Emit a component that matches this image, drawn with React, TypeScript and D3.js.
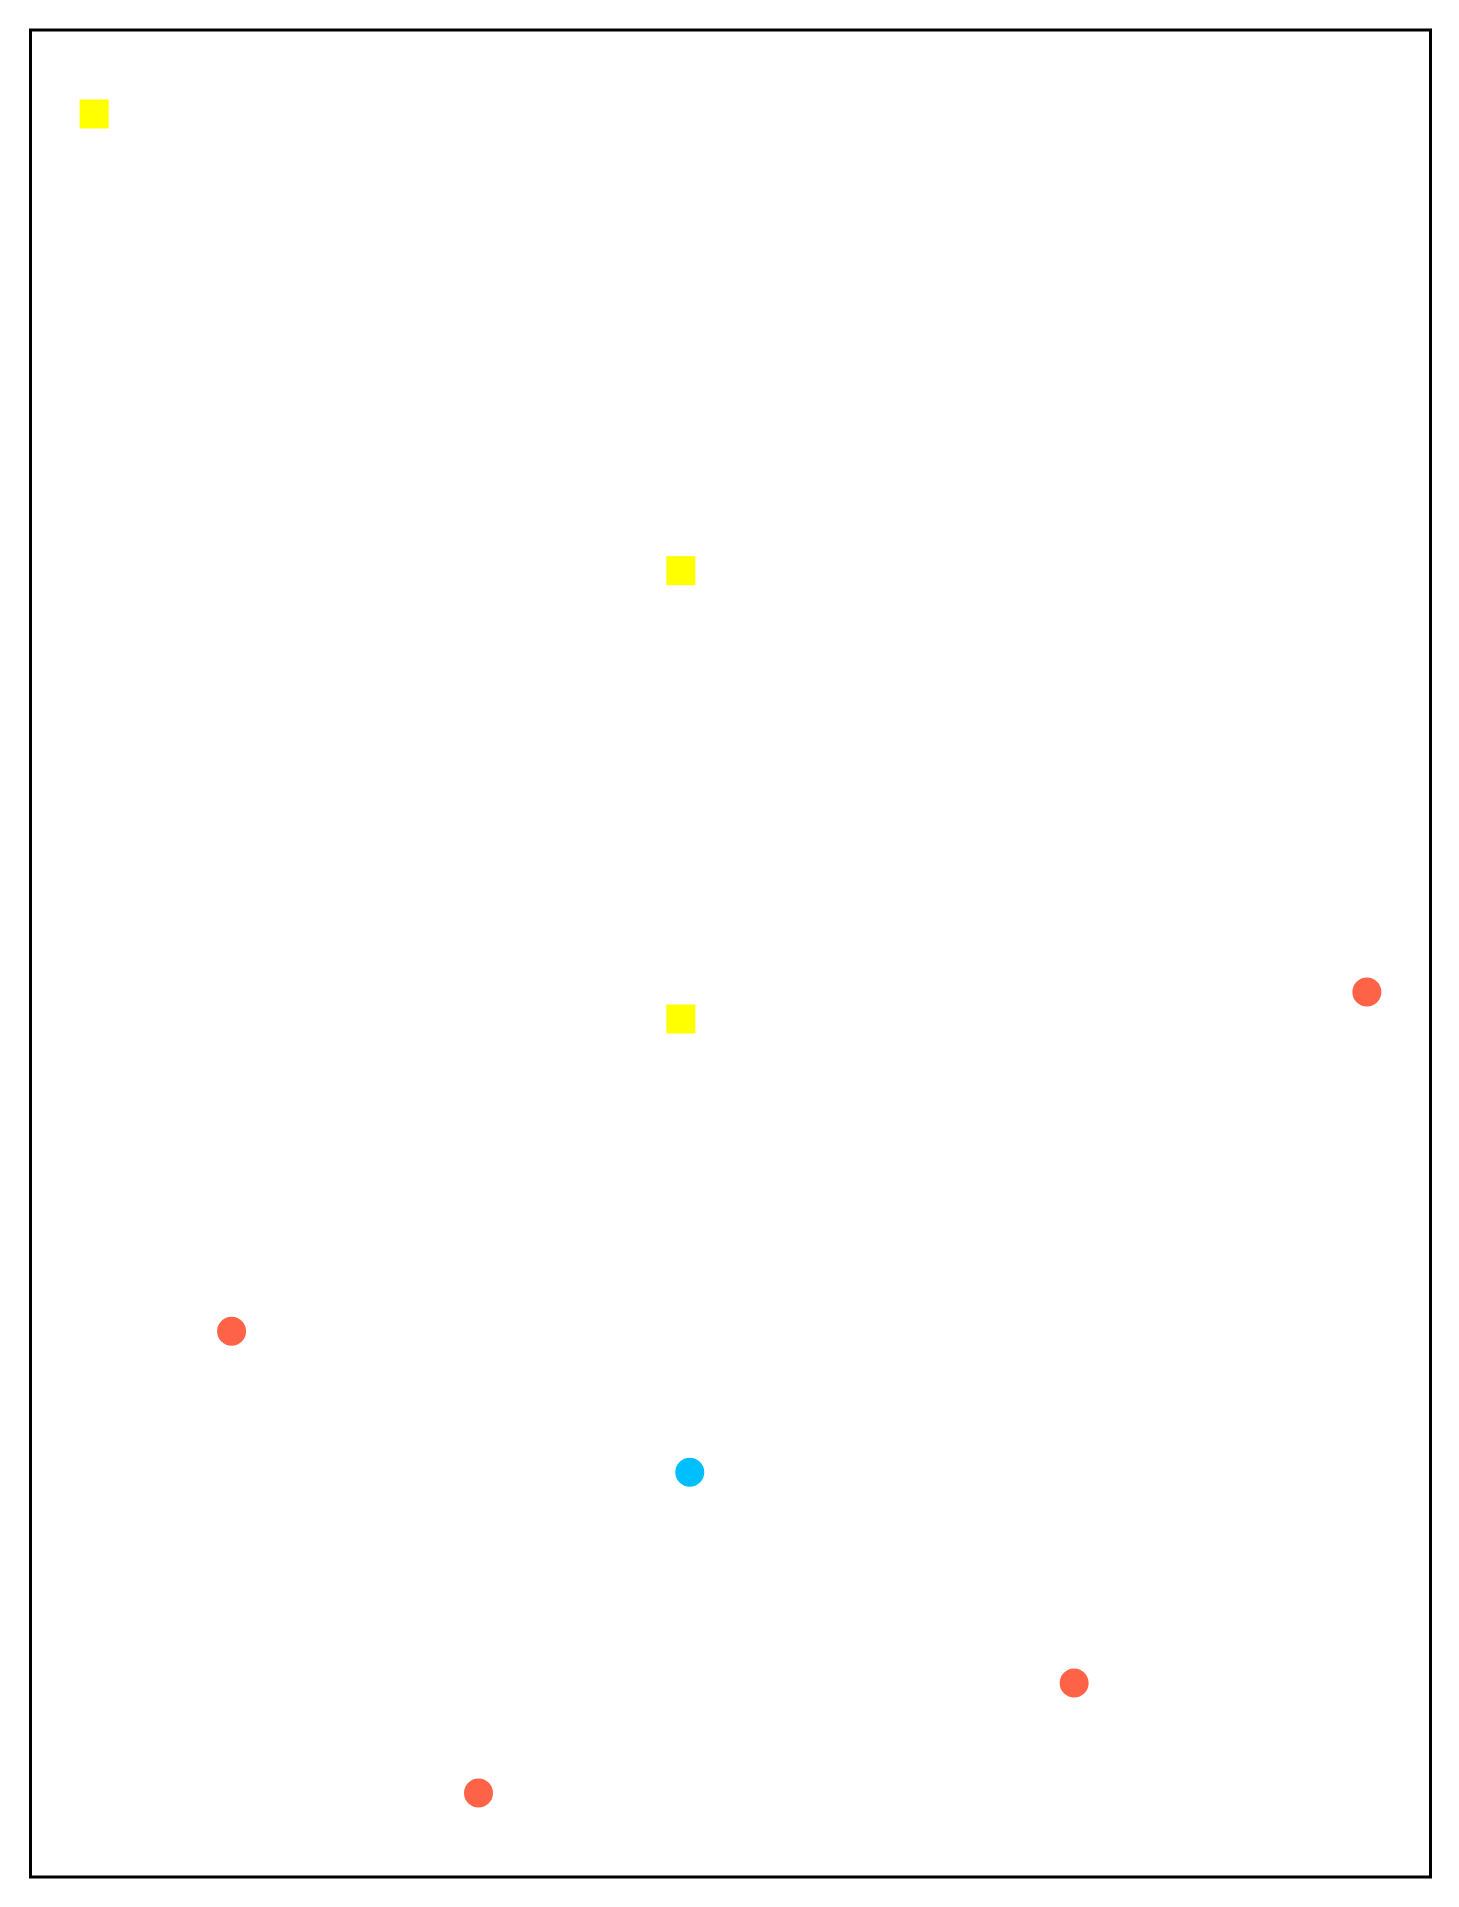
import * as d3 from 'd3';

// scatter data (x, y in data units), grouped by marker style
const squareX = [0.0, 4.61, 4.61];
const squareY = [10.0, 7.28, 4.61];

const redX = [10.0, 1.08, 7.70, 3.02];
const redY = [4.77, 2.75, 0.655, 0.0];

const blueX = [4.68];
const blueY = [1.91];

const WIDTH = 1459;
const HEIGHT = 1907;
const frame = { left: 30.5, top: 30, right: 1430.5, bottom: 1877 };

export default function App() {
  const allX = [...squareX, ...redX, ...blueX];
  const allY = [...squareY, ...redY, ...blueY];
  const [x0, x1] = d3.extent(allX) as [number, number];
  const [y0, y1] = d3.extent(allY) as [number, number];
  const padX = (x1 - x0) * 0.05;
  const padY = (y1 - y0) * 0.05;

  const x = d3.scaleLinear().domain([x0 - padX, x1 + padX]).range([frame.left, frame.right]);
  const y = d3.scaleLinear().domain([y0 - padY, y1 + padY]).range([frame.bottom, frame.top]);

  const side = 29;
  const r = 14.5;

  return (
    <div style={{ position: 'absolute', left: 0, top: 0 }}>
      <svg width={WIDTH} height={HEIGHT} style={{ display: 'block' }}>
        <rect width={WIDTH} height={HEIGHT} fill="#ffffff" />
        <rect
          x={frame.left}
          y={frame.top}
          width={frame.right - frame.left}
          height={frame.bottom - frame.top}
          fill="#ffffff"
          stroke="#000"
          strokeWidth={3}
        />
        {squareX.map((d, i) => (
          <rect
            key={'s' + i}
            x={x(d) - side / 2}
            y={y(squareY[i]) - side / 2}
            width={side}
            height={side}
            fill="#ffff00"
          />
        ))}
        {redX.map((d, i) => (
          <circle key={'r' + i} cx={x(d)} cy={y(redY[i])} r={r} fill="#ff6347" />
        ))}
        {blueX.map((d, i) => (
          <circle key={'b' + i} cx={x(d)} cy={y(blueY[i])} r={r} fill="#00bfff" />
        ))}
      </svg>
    </div>
  );
}
